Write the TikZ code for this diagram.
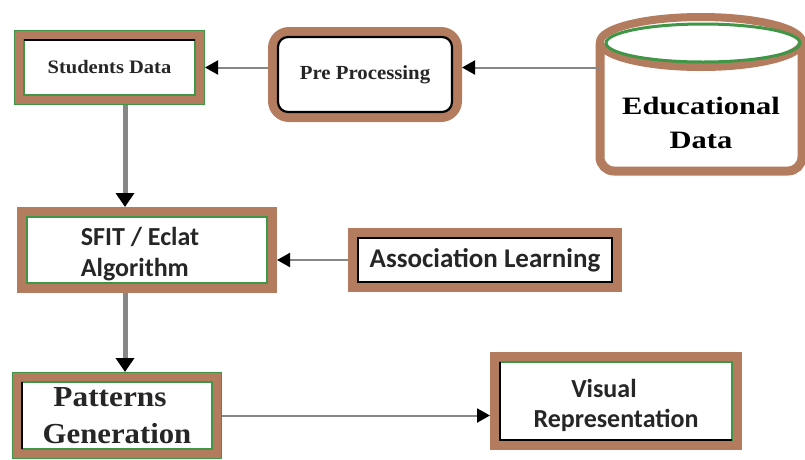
\documentclass[tikz,border=0pt]{standalone}
\usepackage{fontspec}
\setmainfont{Liberation Serif}
\newfontfamily\calib{Carlito}
\usetikzlibrary{arrows.meta}
\definecolor{frame}{RGB}{180,124,94}
\definecolor{edge}{RGB}{62,150,70}
\definecolor{link}{RGB}{135,135,135}
% thin coloured lines on the inner and outer side of a framed box
\newcommand\boxedges[3]{%
  \draw[#2, line width=1.4pt] ([shift={(0.7pt,-0.7pt)}]#1.north west) rectangle ([shift={(-0.7pt,0.7pt)}]#1.south east);
  \draw[#3, line width=1.6pt] ([shift={(10pt,-10pt)}]#1.north west) rectangle ([shift={(-10pt,10pt)}]#1.south east);}
\begin{document}
\begin{tikzpicture}[x=1pt,y=-1pt,
  box/.style={draw=frame, line width=10pt, fill=white, outer sep=5pt, inner sep=0pt, text=black!85},
  serif/.style 2 args={font=\bfseries\fontsize{#1}{#2}\selectfont, align=center},
  sans/.style 2 args={font=\calib\bfseries\fontsize{#1}{#2}\selectfont},
  link/.style={draw=link, line width=2pt, -{Triangle[length=13pt,width=14pt,color=black]}},
  vlink/.style={draw=link, line width=5pt, -{Triangle[length=14pt,width=18pt,color=black]}}]
\useasboundingbox[fill=white] (0,0) rectangle (805,459);

% educational data store (cylinder)
\draw[frame, line width=9pt, rounded corners=14pt, fill=white] (600,43) -- (600,171) -- (802,171) -- (802,43);
\draw[frame, line width=8pt, fill=white] (701,42) ellipse [x radius=101pt, y radius=25pt];
\draw[edge, line width=3pt] (703,43) ellipse [x radius=97pt, y radius=19pt];
\node[minimum width=204pt, minimum height=100pt, inner sep=0pt, outer sep=0pt, serif={25}{34}] (edu) at (701,123)
  {\scalebox{1.22}[1]{Educational}\\\scalebox{1.22}[1]{Data}};

% boxes
\node[box, minimum width=181pt, minimum height=65pt, serif={19}{23}] (stud) at (109.5,67.5) {\scalebox{1.08}[1]{Students Data}};
\boxedges{stud}{edge}{edge}
\draw[black, line width=1.6pt] ([shift={(10pt,-10pt)}]stud.north west) -- ([shift={(-10pt,-10pt)}]stud.north east);

\node[box, rounded corners=16pt, minimum width=184pt, minimum height=85pt, serif={20}{24}] (pre) at (365,74.5) {\scalebox{1.04}[1]{Pre Processing}};
\draw[black, line width=2.2pt, rounded corners=10pt] ([shift={(10pt,-10pt)}]pre.north west) rectangle ([shift={(-10pt,10pt)}]pre.south east);

\node[box, minimum width=250pt, minimum height=76pt, sans={26}{31}, align=left] (sfit) at (147,250) {\hspace*{-14pt}\rule{0pt}{26pt}SFIT / Eclat\\\hspace*{-14pt}Algorithm};
\boxedges{sfit}{frame}{edge}

\node[box, minimum width=264pt, minimum height=54pt, sans={27}{31}] (assoc) at (485,260) {Association Learning};
\boxedges{assoc}{frame}{black}

\node[box, minimum width=200pt, minimum height=77pt, serif={29}{37}] (pat) at (117,415.5) {\scalebox{1.08}[1]{Patterns}\hspace*{14pt}\\\scalebox{1.06}[1]{Generation}};
\boxedges{pat}{edge}{edge}
\draw[black, line width=2pt] ([shift={(10pt,-10pt)}]pat.north west) -- ([shift={(10pt,10pt)}]pat.south west);

\node[box, minimum width=242pt, minimum height=88pt, sans={26}{30}, align=center] (vis) at (616,401) {\rule{0pt}{27pt}Visual\hspace*{24pt}\\Representation};
\boxedges{vis}{frame}{edge}
\draw[black, line width=2pt] ([shift={(10pt,-10pt)}]vis.north west) -- ([shift={(10pt,10pt)}]vis.south west) -- ([shift={(-10pt,10pt)}]vis.south east);

% connectors
\coordinate (col) at (125,0);
\draw[link] (edu.west |- stud.east) -- (pre.east |- stud.east);
\draw[link] (pre.west |- stud.east) -- (stud.east);
\draw[vlink] (stud.south -| col) -- (sfit.north -| col);
\draw[link] (assoc.west) -- (sfit.east |- assoc.west);
\draw[vlink] (sfit.south -| col) -- (pat.north -| col);
\draw[link] (pat.east) -- (vis.west |- pat.east);
\end{tikzpicture}
\end{document}
